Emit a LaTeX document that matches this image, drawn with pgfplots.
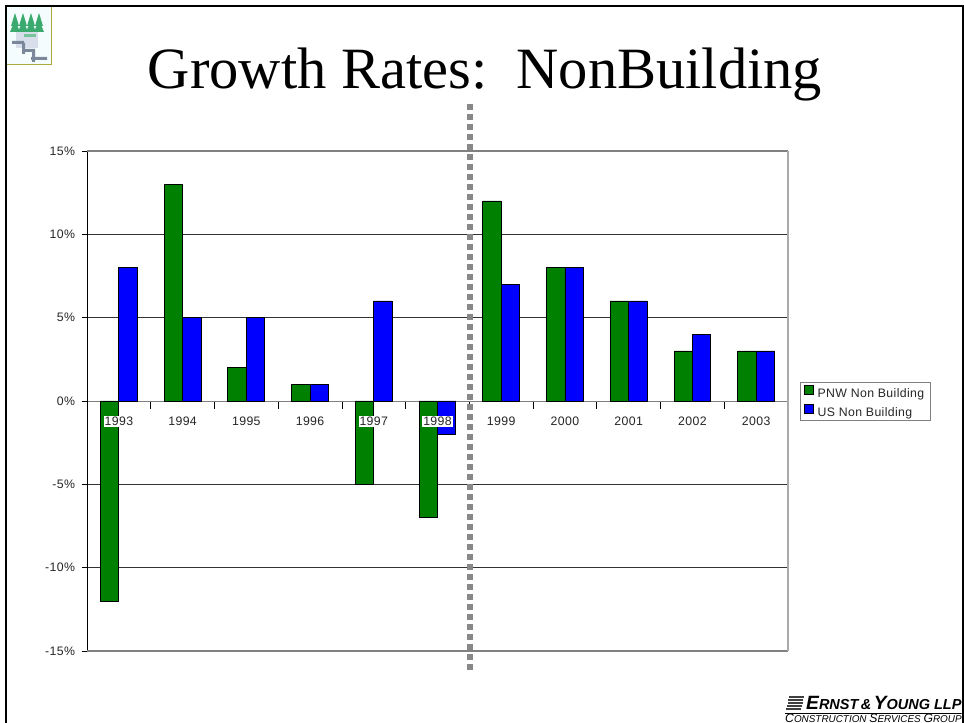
\documentclass[border=0pt]{standalone}
\usepackage{pgfplots}
\pgfplotsset{compat=1.18}
\usepackage{pgfplotstable}
\usepackage{fontspec}
\setmainfont{Liberation Sans}
\newfontfamily\chartfont[LetterSpace=3]{Liberation Sans}
\newfontfamily\titlefont{Liberation Serif}
\newfontfamily\eyfont{Liberation Sans}
\definecolor{pnw}{RGB}{0,128,0}
\definecolor{usb}{RGB}{0,0,255}
\definecolor{axgrey}{RGB}{128,128,128}
\definecolor{rgrey}{RGB}{170,170,170}
\definecolor{dashg}{RGB}{136,136,136}
\definecolor{tree}{RGB}{60,170,110}
\definecolor{stair}{RGB}{90,105,130}
\definecolor{haze}{RGB}{200,208,225}
\definecolor{logoedge}{RGB}{170,170,60}
\pgfplotstableread{
x pnw us
0 -12 8
1 13 5
2 2 5
3 1 1
4 -5 6
5 -7 -2
6 12 7
7 8 8
8 6 6
9 3 4
10 3 3
}\growth
\pgfplotsset{layers/mine/.define layer set={axis background,axis grid,axis ticks,axis lines,main,axis tick labels,axis descriptions,axis foreground}{
  grid style={/pgfplots/on layer=axis grid},
  tick style={/pgfplots/on layer=axis ticks},
  axis line style={/pgfplots/on layer=axis lines},
  tick label style={/pgfplots/on layer=axis tick labels},
  label style={/pgfplots/on layer=axis descriptions},
  legend style={/pgfplots/on layer=axis descriptions},
}}
\begin{document}
\begin{tikzpicture}[x=1pt,y=1pt]
\path (0,0) rectangle (964,723);
% frame
\fill[black] (4.7,0) rectangle (7,718);
\fill[black] (4.7,716) rectangle (964,718);
\fill[black] (961.5,0) rectangle (964,718);
% logo
\fill[white!96!cyan] (7,658) rectangle (51,716);
\draw[logoedge,line width=1pt] (7,658) -- (51.5,658) -- (51.5,716);
\fill[haze!70] (16,675) rectangle (38,694);
\foreach \tx in {15,23,31,39}{
  \fill[tree] (\tx-4,697) -- (\tx,710) -- (\tx+4,697) -- cycle;
  \fill[tree] (\tx-5,691) -- (\tx,703) -- (\tx+5,691) -- cycle;}
\fill[tree!70!white] (24,686) rectangle (36,689);
\fill[stair!80!white] (12,679) rectangle (24,682) (22,671) rectangle (35,674) (31,663) rectangle (47,666);
\fill[stair!80!white] (22,669) rectangle (25,680) (32,661) rectangle (35,672);
\begin{axis}[
  set layers=mine,
  at={(87pt,72pt)},anchor=south west,
  scale only axis,width=701pt,height=500pt,
  xmin=-0.5,xmax=10.5,ymin=-15,ymax=15,
  axis x line=middle,
  axis y line=left,
  axis line style={-,line width=0.9pt},
  x axis line style={axgrey},
  y axis line style={black},
  ytick={-15,-10,...,15},
  yticklabels={-15\%,-10\%,-5\%,0\%,5\%,10\%,15\%},
  ymajorgrids,
  grid style={black!80,line width=0.9pt},
  xtick={0,...,10},
  xticklabels={1993,1994,1995,1996,1997,1998,1999,2000,2001,2002,2003},
  minor xtick={-0.5,0.5,...,10.5},
  major x tick style={draw=none},
  minor x tick style={black,line width=0.7pt},
  minor tick length=8pt,
  major tick length=5pt,
  tick align=center,
  ytick style={black,line width=0.8pt,xshift=-2.5pt},
  x tick label style={font=\chartfont\fontsize{12.3}{14}\selectfont,fill=white,inner sep=1pt,yshift=-10pt,text=black!85},
  y tick label style={font=\chartfont\fontsize{12.3}{14}\selectfont,text=black!85,xshift=-6pt},
  ybar,bar width=18.4pt,
  legend cell align=left,
  legend image code/.code={\draw[#1,line width=0.9pt] (0pt,-2pt) rectangle (8.5pt,6.5pt);},
  legend style={at={(1.017,0.538)},anchor=north west,draw=axgrey,line width=1pt,font=\chartfont\fontsize{12.3}{14}\selectfont,inner xsep=3.8pt,inner ysep=2.5pt,row sep=6pt,text=black!85,nodes={inner ysep=0pt,text height=12pt,text depth=1pt},/tikz/every even column/.style={column sep=1pt},/tikz/every odd column/.style={column sep=2pt}},
  clip=false,
]
\draw[axgrey,line width=1.1pt] (rel axis cs:0,1) -- (rel axis cs:1,1);
\draw[axgrey,line width=1.1pt] (rel axis cs:0,0) -- (rel axis cs:1,0);
\draw[rgrey,line width=1.5pt] (rel axis cs:1,0) -- (rel axis cs:1,1);
\addplot[draw=black,fill=pnw,line width=0.9pt,bar shift=-9.2pt] table[x=x,y=pnw]{\growth};
\addplot[draw=black,fill=usb,line width=0.9pt,bar shift=9.2pt] table[x=x,y=us]{\growth};
\legend{PNW Non Building,US Non Building}
\end{axis}
\draw[dashg,line width=6pt,dash pattern=on 6pt off 4pt] (470,618.5) -- (470,50);
\node[anchor=base,inner sep=0pt,font=\titlefont\fontsize{58.5}{60}\selectfont] at (485,634) {Growth Rates:\ \ NonBuilding};
% logo text
\begin{scope}
\clip (780,0) rectangle (961.5,40);
\foreach \ly/\lx in {13/0,16/0.8,19/1.6,22/2.4,25/3.2}{\fill[black!75] (786+\lx,\ly) rectangle (801+\lx,\ly+1.6);}
\node[anchor=base west,inner sep=0pt,font=\eyfont\fontsize{19.2}{19}\selectfont\bfseries\itshape] at (806,13) {E\fontsize{14.5}{15}\selectfont RNST\,\&\,\fontsize{19.2}{19}\selectfont Y\fontsize{14.5}{15}\selectfont OUNG LLP};
\draw[black,line width=0.9pt] (785,10) -- (961.5,10);
\node[anchor=base west,inner sep=0pt,font=\eyfont\fontsize{12.2}{12}\selectfont\itshape] at (785,0.3) {C\fontsize{9.9}{10}\selectfont ONSTRUCTION \fontsize{12.2}{12}\selectfont S\fontsize{9.9}{10}\selectfont ERVICES \fontsize{12.2}{12}\selectfont G\fontsize{9.9}{10}\selectfont ROUP};
\end{scope}
\pgfresetboundingbox
\useasboundingbox (0,0) rectangle (964,723);
\end{tikzpicture}
\end{document}
